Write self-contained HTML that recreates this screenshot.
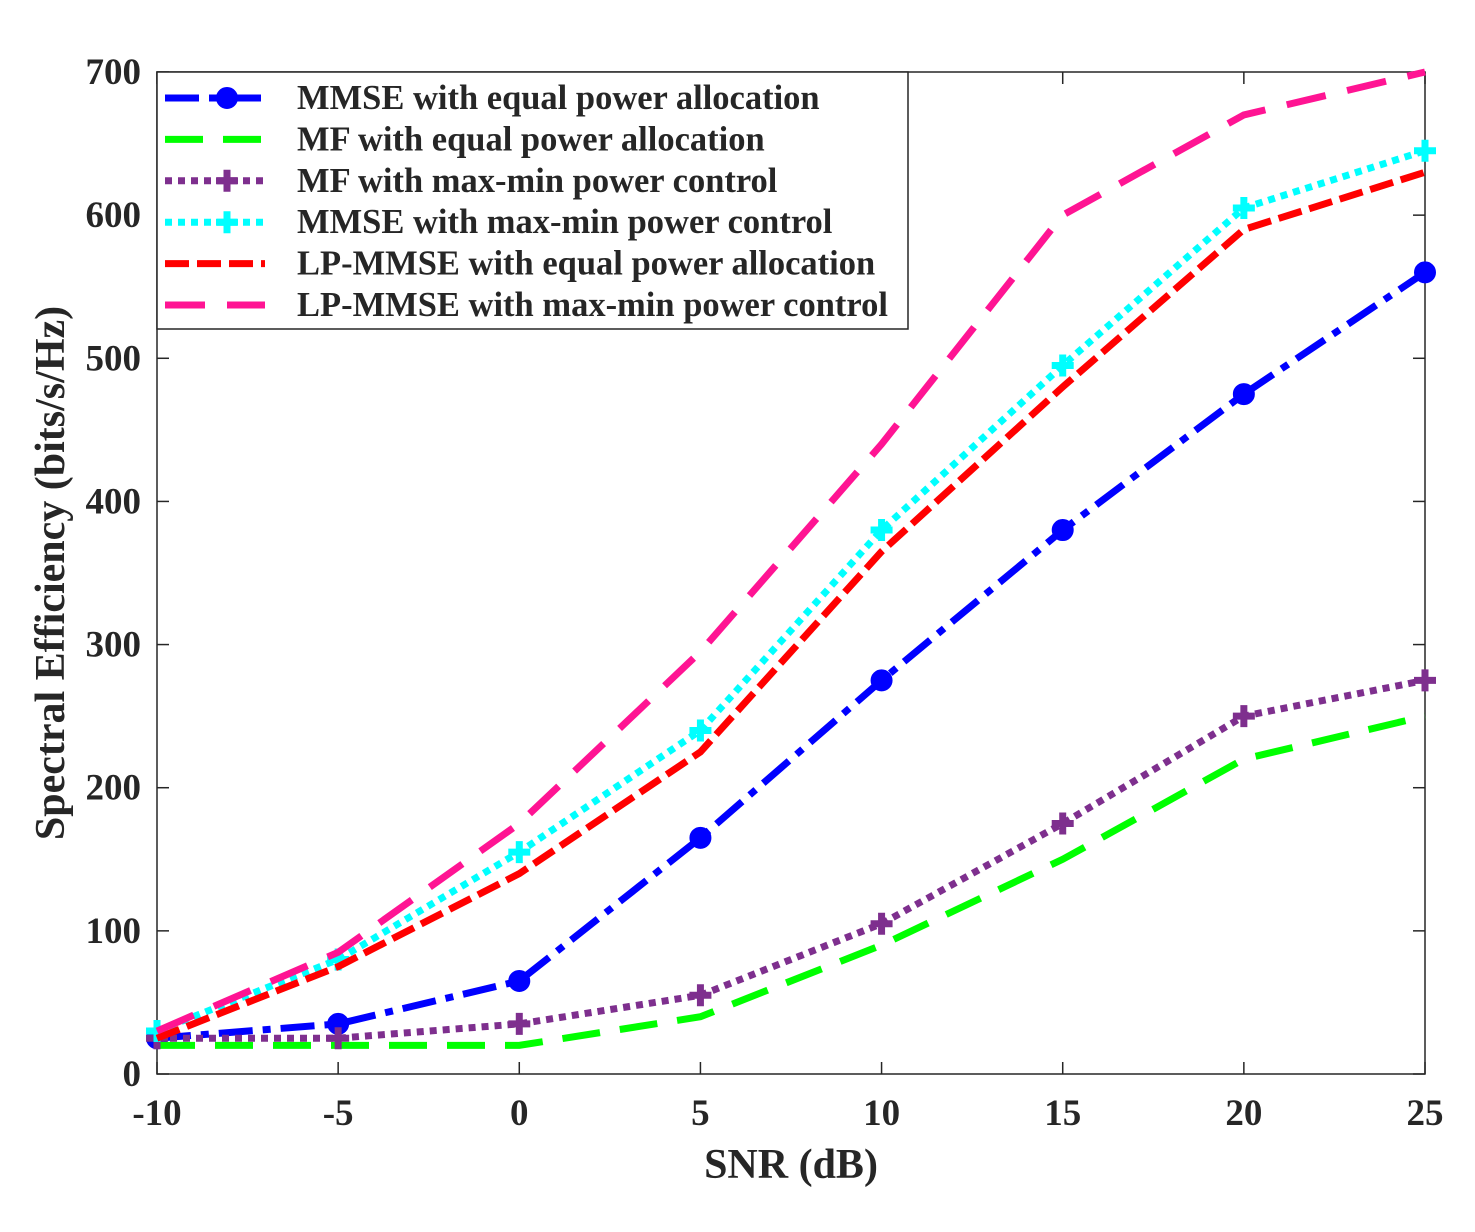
<!DOCTYPE html>
<html><head><meta charset="utf-8"><style>
body{margin:0;background:#fff}
svg text{font-family:"Liberation Serif",serif;font-weight:bold;fill:#262626}
</style></head><body>
<svg id="chart" width="1475" height="1227" xmlns="http://www.w3.org/2000/svg">
<rect width="1475" height="1227" fill="#fff"/>
<g id="grid"></g>
<g id="series"></g>
<g id="legend"></g>
</svg>
<script>
const snr=[-10,-5,0,5,10,15,20,25];
const xTicks=[-10,-5,0,5,10,15,20,25];
const yTicks=[0,100,200,300,400,500,600,700];
const mmseEqual=[25,35,65,165,275,380,475,560];
const mfEqual=[20,20,20,40,90,150,220,250];
const mfMaxMin=[25,25,35,55,105,175,250,275];
const mmseMaxMin=[30,80,155,240,380,495,605,645];
const lpEqual=[25,75,140,225,365,480,590,630];
const lpMaxMin=[30,85,175,295,440,600,670,700];
const seriesNames=["MMSE with equal power allocation","MF with equal power allocation","MF with max-min power control","MMSE with max-min power control","LP-MMSE with equal power allocation","LP-MMSE with max-min power control"];

const L=157,R=1425,T=72,B=1074;
const X=v=>L+(v+10)/35*(R-L);
const Y=v=>B-v/700*(B-T);
const NS="http://www.w3.org/2000/svg";
function mk(tag,attrs,parent,txt){const e=document.createElementNS(NS,tag);for(const k in attrs)e.setAttribute(k,attrs[k]);if(txt!==undefined)e.textContent=txt;parent.appendChild(e);return e;}
const g=document.getElementById('grid'),s=document.getElementById('series'),lg=document.getElementById('legend');

const frame=mk('rect',{x:L,y:T,width:R-L,height:B-T,fill:'none',stroke:'#262626','stroke-width':1.5},g);


xTicks.forEach(v=>{
 mk('line',{x1:X(v),x2:X(v),y1:B,y2:B-12,stroke:'#262626','stroke-width':1.5},g);
 mk('line',{x1:X(v),x2:X(v),y1:T,y2:T+12,stroke:'#262626','stroke-width':1.5},g);
 const t=mk('text',{x:X(v),y:1125,'text-anchor':'middle','font-size':37},g,String(v));
 
 
});
yTicks.forEach(v=>{
 mk('line',{x1:L,x2:L+12,y1:Y(v),y2:Y(v),stroke:'#262626','stroke-width':1.5},g);
 mk('line',{x1:R,x2:R-12,y1:Y(v),y2:Y(v),stroke:'#262626','stroke-width':1.5},g);
 const t=mk('text',{x:141,y:Y(v)+12,'text-anchor':'end','font-size':37},g,String(v));
 
 
});
const xt=mk('text',{x:791,y:1178,'text-anchor':'middle','font-size':42},g,'SNR (dB)');


const yt=mk('text',{x:0,y:0,'text-anchor':'middle','font-size':42,transform:'translate(64,573) rotate(-90)'},g,'Spectral Efficiency (bits/s/Hz)');



const styles=[
 {data:mmseEqual,color:'#0000ff',dash:'34 10 8 10',marker:'circle'},
 {data:mfEqual,color:'#00ff00',dash:'38 20',marker:null},
 {data:mfMaxMin,color:'#7e2f8e',dash:'7 6',marker:'plus'},
 {data:mmseMaxMin,color:'#00ffff',dash:'7 6',marker:'plus'},
 {data:lpEqual,color:'#ff0000',dash:'24 8',marker:null},
 {data:lpMaxMin,color:'#ff1493',dash:'40 22',marker:null}
];
function marker(type,x,y,c,parent){
 if(type==='circle')return mk('circle',{cx:x,cy:y,r:10.5,fill:c,stroke:c},parent);
 if(type==='plus')return mk('path',{d:`M${x-11},${y}H${x+11}M${x},${y-11}V${y+11}`,stroke:c,'stroke-width':7,fill:'none'},parent);
}
styles.forEach((st,i)=>{
 const pts=snr.map((v,j)=>X(v)+','+Y(st.data[j])).join(' ');
 const pl=mk('polyline',{points:pts,fill:'none',stroke:st.color,'stroke-width':7,'stroke-dasharray':st.dash},s);
 
 
 if(st.marker)snr.forEach((v,j)=>{const m=marker(st.marker,X(v),Y(st.data[j]),st.color,s);
  
  });
});
const box=mk('rect',{x:L,y:T,width:751,height:257,fill:'#fff',stroke:'#262626','stroke-width':1.5},lg);


styles.forEach((st,i)=>{
 const y=98+i*41.4;
 const ln=mk('line',{x1:165,x2:265,y1:y,y2:y,stroke:st.color,'stroke-width':7,'stroke-dasharray':st.dash},lg);
 
 
 if(st.marker)marker(st.marker,227,y,st.color,lg);
 const t=mk('text',{x:297,y:y+11,'font-size':34.5},lg,seriesNames[i]);
 
 
});
</script>
</body></html>
